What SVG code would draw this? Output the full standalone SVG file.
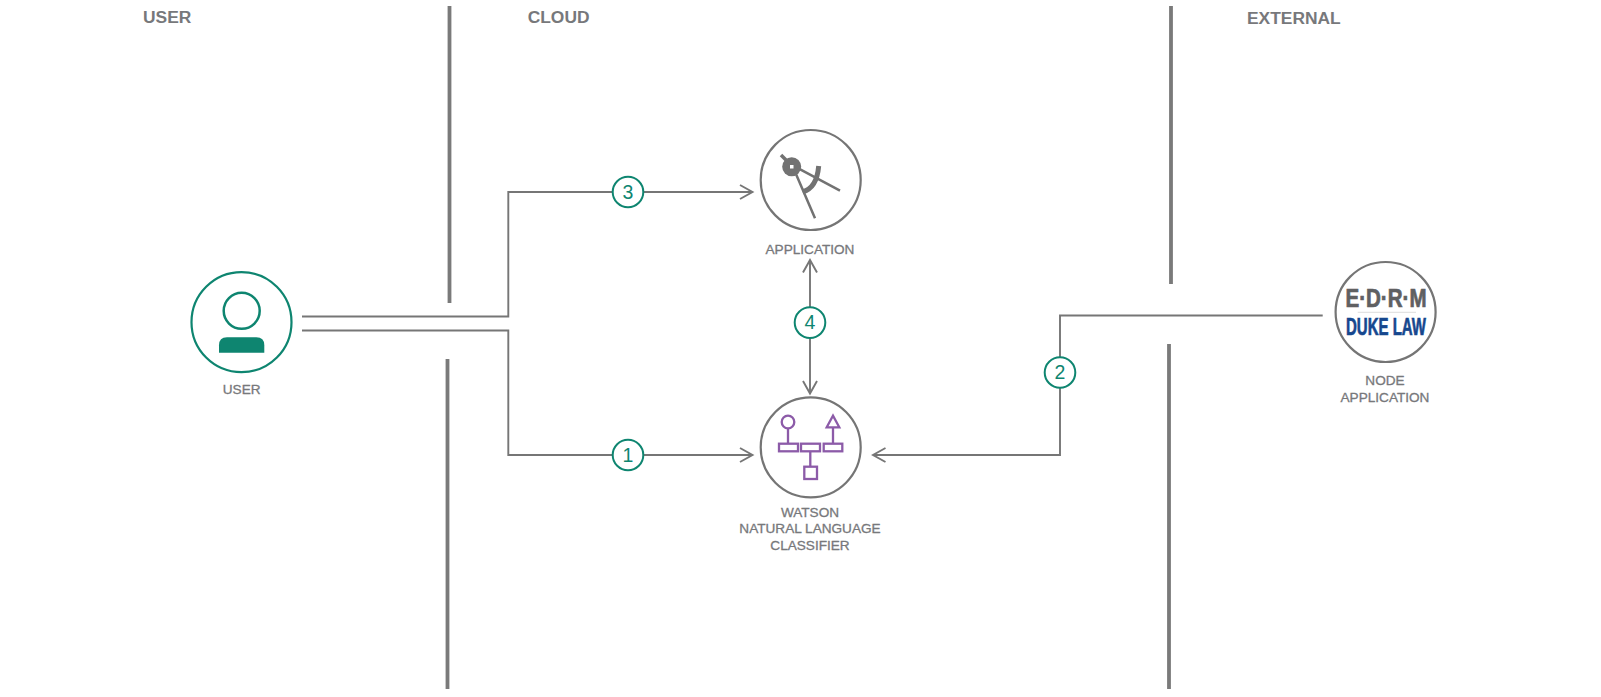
<svg xmlns="http://www.w3.org/2000/svg" width="1601" height="697" viewBox="0 0 1601 697">
<style>
text{font-family:"Liberation Sans",Arial,sans-serif;fill:#77787b}
.h{font-size:17.4px;font-weight:700}
.l{font-size:13.600px;text-anchor:middle;stroke:#77787b;stroke-width:.3}
.div{stroke:#7a7a7a;stroke-width:3.800;fill:none}
.c{stroke:#767676;stroke-width:1.900;fill:none}
.bc{fill:#fff;stroke:#0e8570;stroke-width:2}
.bt{font-size:19.500px;text-anchor:middle;fill:#0e8570}
.nc{fill:#fff;stroke:#757575;stroke-width:2.200}
.p{fill:none;stroke:#8c5ba8;stroke-width:2.300}
.g{fill:none;stroke:#727272;stroke-width:2.500}
</style>
<g id="zones">
<path class="div" d="M449.500 6V303M447.500 359V689M1171 6V284M1169 344V689"/>
<text class="h" x="143" y="22.700">USER</text>
<text class="h" x="527.700" y="22.700">CLOUD</text>
<text class="h" x="1247" y="23.500">EXTERNAL</text>
</g>
<g id="connectors">
<path class="c" d="M302 316.500H508.300V192H752"/>
<path class="c" d="M740 185L752.500 192L740 199"/>
<path class="c" d="M302 330.500H508.300V455H752"/>
<path class="c" d="M740 448L752.500 455L740 462"/>
<path class="c" d="M1322.700 315.500H1060V455H873"/>
<path class="c" d="M885.500 448L873 455L885.500 462"/>
<path class="c" d="M810 260V393"/>
<path class="c" d="M803 272.500L810 260L817 272.500M803 381L810 393.500L817 381"/>
</g>
<g id="badge-3"><circle class="bc" cx="628" cy="192" r="15.300"/><text class="bt" x="628" y="198.700">3</text></g>
<g id="badge-1"><circle class="bc" cx="628" cy="455" r="15.300"/><text class="bt" x="628" y="461.700">1</text></g>
<g id="badge-2"><circle class="bc" cx="1060" cy="372.500" r="15.300"/><text class="bt" x="1060" y="379.200">2</text></g>
<g id="badge-4"><circle class="bc" cx="810" cy="322.600" r="15.300"/><text class="bt" x="810" y="329.300">4</text></g>
<g id="user">
<circle cx="241.500" cy="322.200" r="50" fill="#fff" stroke="#0e8570" stroke-width="2.200"/>
<circle cx="241.700" cy="310.800" r="18" fill="none" stroke="#0e8570" stroke-width="2.500"/>
<path d="M219 352.700V345.300Q219 337.300 227 337.300H256.300Q264.300 337.300 264.300 345.300V352.700Z" fill="#0e8570"/>
<text class="l" x="241.700" y="394.300">USER</text>
</g>
<g id="application">
<circle class="nc" cx="810.700" cy="180" r="50"/>
<path class="g" d="M795 171.700L815 218.300M798.300 168.300L840 190.700"/>
<path class="g" style="stroke-width:3.500" d="M781 155L787 161"/>
<path d="M818.700 166Q816.700 188.300 802.700 191.700" fill="none" stroke="#727272" stroke-width="5"/>
<circle cx="791.700" cy="166.700" r="9.500" fill="#727272"/>
<rect x="790" y="165" width="3.500" height="3.500" fill="#fff"/>
<text class="l" x="810" y="254">APPLICATION</text>
</g>
<g id="classifier">
<circle class="nc" cx="810.700" cy="447.300" r="50"/>
<circle class="p" cx="788" cy="422" r="6.300"/>
<path class="p" d="M788 428.300V443.700M833 427.300V443.700M810.300 451.300V466.700"/>
<path class="p" d="M826.700 427.300L833 415.700L839.300 427.300Z"/>
<rect class="p" x="779" y="443.700" width="19" height="7.600"/>
<rect class="p" x="801" y="443.700" width="19" height="7.600"/>
<rect class="p" x="823.700" y="443.700" width="18.600" height="7.600"/>
<rect class="p" x="804.300" y="466.700" width="12.700" height="12.300"/>
<text class="l" x="810" y="516.700">WATSON</text>
<text class="l" x="810" y="533.300">NATURAL LANGUAGE</text>
<text class="l" x="810" y="550">CLASSIFIER</text>
</g>
<g id="node-application">
<circle class="nc" cx="1385.600" cy="312" r="50"/>
<text x="1386" y="307.300" text-anchor="middle" font-size="25" font-weight="700" style="fill:#5f6062;stroke:#5f6062;stroke-width:.7" textLength="81" lengthAdjust="spacingAndGlyphs">E·D·R·M</text>
<line x1="1357.700" x2="1416" y1="312.300" y2="312.300" stroke="#dcdcdc"/>
<text x="1386" y="335" text-anchor="middle" font-size="24" font-weight="700" style="fill:#16478e;stroke:#16478e;stroke-width:.7" textLength="80" lengthAdjust="spacingAndGlyphs">DUKE LAW</text>
<text class="l" x="1385" y="385">NODE</text>
<text class="l" x="1385" y="401.700">APPLICATION</text>
</g>
</svg>
